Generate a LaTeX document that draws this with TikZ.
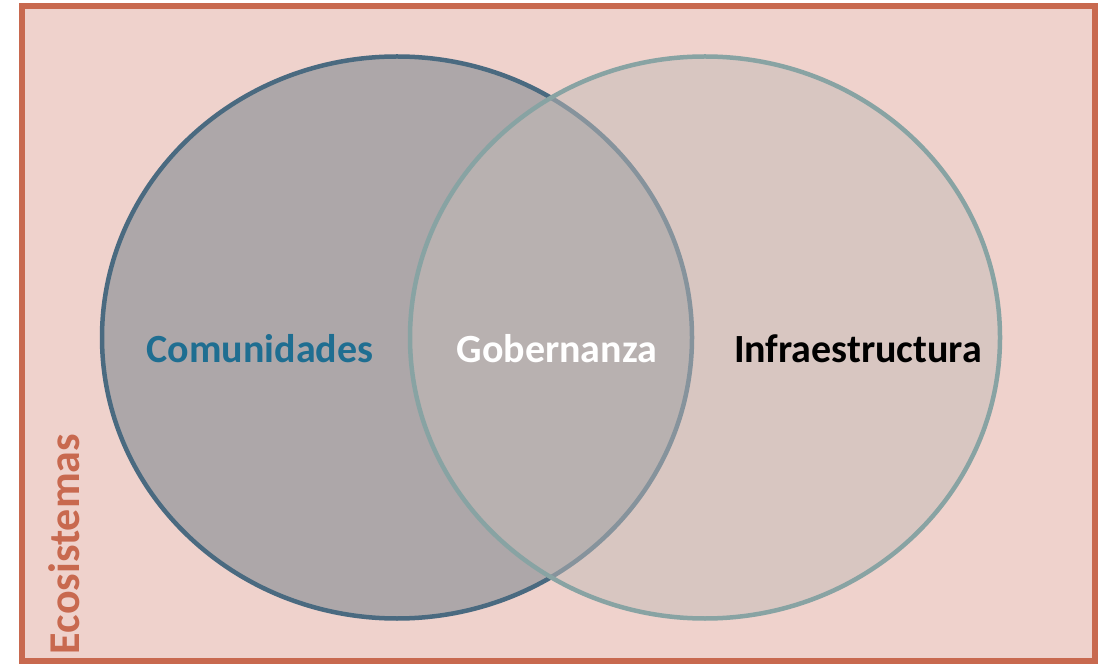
\documentclass[tikz,border=0pt]{standalone}
\usepackage{fontspec}
\setmainfont{Carlito}
\usetikzlibrary{shapes.geometric}
\definecolor{bgfill}{HTML}{EFD2CC}
\definecolor{frame}{HTML}{C8694F}
\definecolor{leftfill}{HTML}{ADA7A9}
\definecolor{leftline}{HTML}{4A6A80}
\definecolor{rightfill}{HTML}{C3BCB8}
\definecolor{rightline}{HTML}{88A3A3}
\definecolor{comtext}{HTML}{1F6E91}
\tikzset{
  setbox/.style={ellipse, inner sep=0pt, minimum width=590pt, minimum height=562pt, line width=4.5pt},
  label/.style={font=\bfseries\fontsize{40}{45}\selectfont, anchor=base, inner sep=0pt}
}
\begin{document}
\begin{tikzpicture}[x=1pt,y=1pt]
\useasboundingbox (0,0) rectangle (1105,667);
\node[draw=frame, fill=bgfill, line width=6pt, inner sep=0pt, minimum width=1073pt, minimum height=655pt] (eco) at (558.5,333.5) {};
\node[setbox, draw=leftline, fill=leftfill] (com) at (397,329.5) {};
\node[setbox, draw=rightline, fill=rightfill, fill opacity=0.5] (inf) at (705,329.5) {};
\node[label, text=comtext] (tcom) at (260,304) {Comunidades};
\node[label, text=white] (tgob) at (557,304) {Gobernanza};
\node[label, text=black] (tinf) at (858,304) {Infraestructura};
\node[label, text=frame, rotate=90, font=\bfseries\fontsize{44}{48}\selectfont] (teco) at (79,123) {Ecosistemas};
\end{tikzpicture}
\end{document}
